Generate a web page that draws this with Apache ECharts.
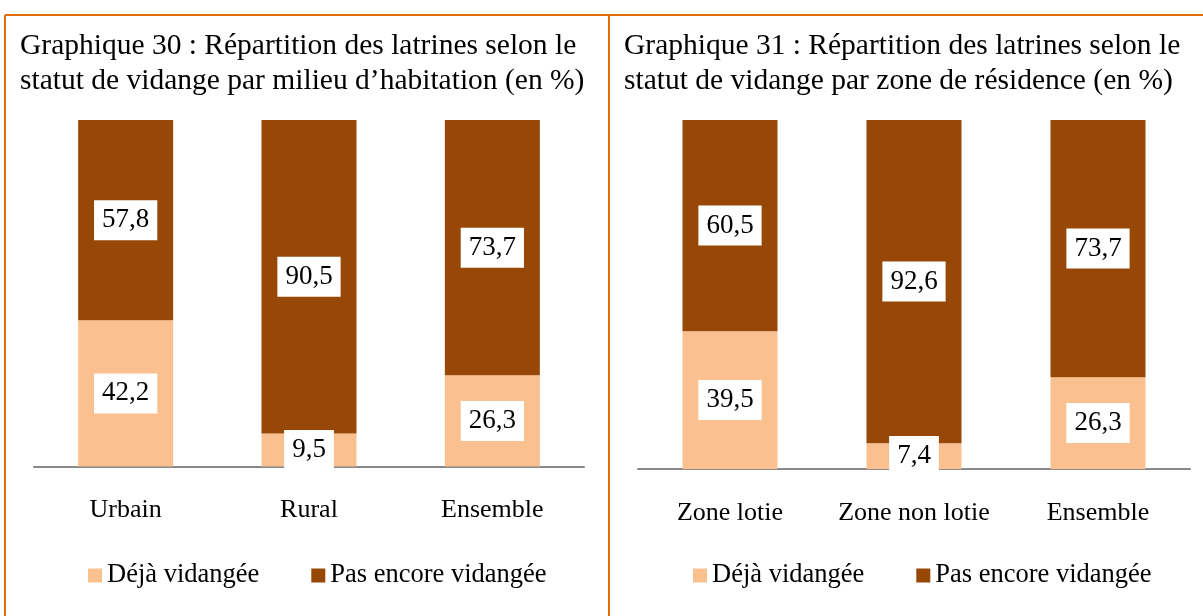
<!DOCTYPE html>
<html>
<head>
<meta charset="utf-8">
<script src="https://cdn.jsdelivr.net/npm/echarts@6/dist/echarts.min.js"></script>
<style>
  html, body { margin: 0; padding: 0; background: #fff; }
  #main { width: 1203px; height: 616px; }
</style>
</head>
<body>
<div id="main"></div>
<script>
// données des deux graphiques
const cat30 = ['Urbain', 'Rural', 'Ensemble'];
const deja30 = [42.2, 9.5, 26.3];       // Déjà vidangée
const pas30 = [57.8, 90.5, 73.7];       // Pas encore vidangée

const cat31 = ['Zone lotie', 'Zone non lotie', 'Ensemble'];
const deja31 = [39.5, 7.4, 26.3];
const pas31 = [60.5, 92.6, 73.7];

const titre30 = 'Graphique 30 : Répartition des latrines selon le\nstatut de vidange par milieu d\u2019habitation (en %)';
const titre31 = 'Graphique 31 : Répartition des latrines selon le\nstatut de vidange par zone de résidence (en %)';

const FONT = '"Liberation Serif", "Times New Roman", serif';
const CLAIR = '#FAC090';
const FONCE = '#974806';
const BORD = '#E36C0A';

let chart = echarts.init(document.getElementById('main'), null, { renderer: 'canvas' });

const fmt = p => String(p.value).replace('.', ',');

function labelStyle() {
  return {
    show: true,
    position: 'inside',
    formatter: fmt,
    color: '#000',
    fontFamily: FONT,
    fontSize: 27,
    backgroundColor: '#fff',
    padding: [7, 8, 6, 8]
  };
}

function serie(nom, data, couleur, idx) {
  return {
    name: nom,
    type: 'bar',
    stack: 'g' + idx,
    xAxisIndex: idx,
    yAxisIndex: idx,
    data: data,
    barWidth: 95,
    itemStyle: { color: couleur },
    label: labelStyle(),
    emphasis: { disabled: true }
  };
}

function axeX(cats, idx) {
  return {
    type: 'category',
    gridIndex: idx,
    data: cats,
    axisLine: { lineStyle: { color: '#898989', width: 2 } },
    axisTick: { show: false },
    axisLabel: { color: '#000', fontFamily: FONT, fontSize: 26, margin: 31, interval: 0 }
  };
}

function axeY(idx) {
  return {
    type: 'value', gridIndex: idx, min: 0, max: 100,
    show: false, splitLine: { show: false }
  };
}

function legende(left) {
  return {
    left: left, top: 562, padding: 0,
    itemWidth: 14, itemHeight: 14, itemGap: 52,
    icon: 'rect',
    textStyle: { color: '#000', fontFamily: FONT, fontSize: 26.5 },
    data: ['Déjà vidangée', 'Pas encore vidangée'],
    selectedMode: false
  };
}

function titre(text, left) {
  return {
    text: text, left: left, top: 29, padding: 0,
    textStyle: { color: '#000', fontFamily: FONT, fontSize: 29.5, fontWeight: 'normal', lineHeight: 35 }
  };
}

const option = {
  animation: false,
  backgroundColor: '#fff',
  title: [titre(titre30, 20), titre(titre31, 624)],
  legend: [legende(88), legende(693)],
  grid: [
    { left: 34, top: 120, width: 550, height: 346.5 },
    { left: 638, top: 120, width: 552, height: 349 }
  ],
  xAxis: [axeX(cat30, 0), axeX(cat31, 1)],
  yAxis: [axeY(0), axeY(1)],
  series: [
    serie('Déjà vidangée', deja30, CLAIR, 0),
    serie('Pas encore vidangée', pas30, FONCE, 0),
    serie('Déjà vidangée', deja31, CLAIR, 1),
    serie('Pas encore vidangée', pas31, FONCE, 1)
  ],
  graphic: [
    { type: 'line', shape: { x1: 5, y1: 15, x2: 1203, y2: 15 }, style: { stroke: BORD, lineWidth: 2 } },
    { type: 'line', shape: { x1: 5, y1: 15, x2: 5, y2: 616 }, style: { stroke: BORD, lineWidth: 2 } },
    { type: 'line', shape: { x1: 609, y1: 15, x2: 609, y2: 616 }, style: { stroke: BORD, lineWidth: 2 } }
  ]
};

chart.setOption(option);
</script>
</body>
</html>
